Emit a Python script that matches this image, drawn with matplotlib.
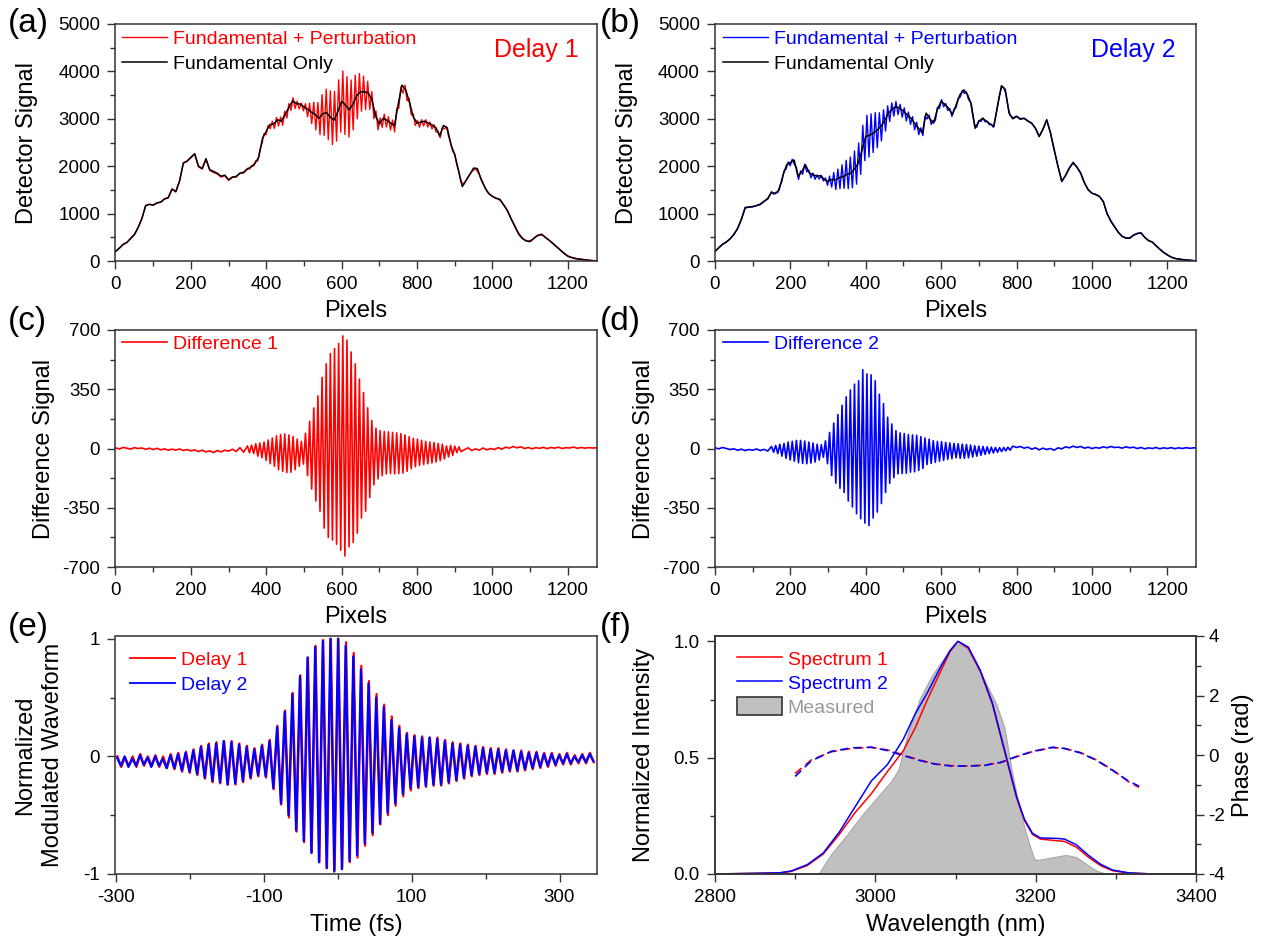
import numpy as np
import matplotlib
matplotlib.use('Agg')
import matplotlib.pyplot as plt
from matplotlib.ticker import MultipleLocator, FixedLocator
from matplotlib.patches import Patch
from matplotlib.lines import Line2D

plt.rcParams['font.family'] = ['Liberation Sans', 'DejaVu Sans']
plt.rcParams['axes.unicode_minus'] = False

# ---------------- data ----------------
PIX_STEP = 10
# (a) fundamental only, sampled every 10 pixels
black_a = [200, 270, 345, 390, 475, 555, 705, 895, 1170, 1195, 1180, 1225, 1245, 1310, 1340, 1520, 1465, 1690,
           2070, 2110, 2190, 2265, 2005, 1950, 2160, 1925, 1890, 1850, 1790, 1810, 1715, 1770, 1785, 1850, 1875,
           1940, 1985, 2060, 2190, 2590, 2740, 2880, 2890, 2980, 2950, 3090, 3240, 3380, 3320, 3310, 3250, 3200,
           3140, 3090, 3010, 3110, 3130, 3030, 2970, 3160, 3370, 3290, 3190, 3310, 3490, 3570, 3570, 3550, 3410,
           3060, 2890, 3010, 2970, 2910, 2850, 3310, 3710, 3610, 3340, 3040, 2910, 2930, 2950, 2910, 2870, 2810,
           2640, 2860, 2810, 2450, 2240, 1900, 1570, 1700, 1830, 1960, 1950, 1720, 1550, 1420, 1365, 1320, 1300,
           1180, 1060, 880, 720, 560, 470, 420, 410, 480, 540, 565, 500, 440, 370, 300, 230, 160, 100, 70, 50, 40,
           30, 20, 10, 5, 0]
# (b) fundamental only
black_b = [200, 280, 350, 400, 470, 560, 690, 880, 1130, 1140, 1150, 1170, 1200, 1260, 1320, 1450, 1420, 1500,
           1800, 2030, 2080, 2130, 1790, 1880, 2030, 1860, 1820, 1790, 1800, 1720, 1680, 1720, 1710, 1760, 1780,
           1830, 1850, 1940, 2060, 2340, 2630, 2650, 2700, 2760, 2840, 2960, 3120, 3200, 3260, 3220, 3160, 3080,
           3010, 2900, 2800, 2700, 3120, 3000, 2910, 3200, 3370, 3300, 3220, 3090, 3300, 3510, 3610, 3510, 3300,
           2800, 2950, 3010, 2950, 2890, 2840, 3300, 3700, 3620, 3120, 3000, 3050, 2990, 3010, 2950, 2910, 2800,
           2630, 2780, 2980, 2700, 2340, 1990, 1680, 1800, 1960, 2070, 1980, 1850, 1650, 1500, 1430, 1400, 1360,
           1250, 1000, 840, 720, 600, 520, 480, 480, 540, 580, 590, 500, 430, 400, 320, 250, 180, 130, 80, 55, 40,
           30, 20, 15, 5, 0]

# (c) difference 1: flat part before, per-fringe extremes, flat part after
diff1_pre = [4, -3, 6, 2, -4, 5, 0, 3, -5, 2, -6, 1, -8, -2, -10, -4, -9, -3, -12, -6,
             -14, -8, -18, -10, -20, -14, -24, -12, -20, -10, -16, -4, -18, 5, -22]
DIFF1_START, FRINGE = 350, 11.0
diff1_top = [15, 20, 28, 32, 38, 50, 62, 75, 82, 86, 80, 70, 55, 42, 90, 160, 240, 310, 420, 500, 560, 590,
             620, 665, 640, 570, 500, 410, 330, 240, 165, 120, 105, 100, 98, 95, 92, 88, 80, 70, 60, 55, 48, 42,
             38, 35, 30, 25, 15, 18, 14, 10]
diff1_bot = [-25, -30, -45, -55, -70, -90, -105, -125, -135, -142, -140, -125, -105, -92, -160, -240, -310, -370,
             -470, -525, -540, -565, -600, -635, -580, -555, -500, -410, -370, -290, -215, -180, -160, -150, -148,
             -150, -148, -145, -135, -120, -108, -100, -95, -90, -85, -80, -72, -62, -50, -40, -25, -18]
DIFF1_POST = 925
diff1_post = [-8, 4, -12, -2, -10, 3, -8, 0, -6, 5, -4, 8, 2, 12, 4, 10, 0, 6, -2, 5, 1, 7, -1, 6, 2, 8, 0, 5,
              3, 9, 1, 6, 2, 5, 3, 4]

# (d) difference 2
diff2_pre = [4, -2, 6, 0, -6, -2, -10, -4, -12, -6, -10, -3, -12, -5, -15]
DIFF2_START = 150
diff2_top = [12, 18, 25, 30, 38, 42, 48, 48, 44, 38, 32, 25, 22, 45, 95, 150, 200, 255, 305, 345, 380, 400, 465,
             440, 435, 400, 320, 265, 185, 145, 105, 92, 88, 82, 80, 78, 70, 62, 55, 46, 42, 40, 36, 33, 30, 28,
             26, 24, 20, 16, 14, 12, 10, 8, 6, 5, 6, 8]
diff2_bot = [-22, -30, -45, -58, -68, -75, -84, -88, -90, -86, -80, -68, -52, -90, -160, -205, -235, -260, -310,
             -345, -385, -415, -440, -455, -410, -375, -325, -260, -205, -172, -150, -148, -146, -140, -138, -130,
             -118, -95, -88, -82, -75, -70, -64, -60, -55, -58, -58, -55, -50, -45, -40, -35, -30, -26, -22, -18,
             -14, -10]
DIFF2_POST = 790
diff2_post = [14, 6, 12, 2, 8, -4, 4, -8, 2, -6, 0, -10, 4, -2, 10, 4, 14, 6, 12, 2, 8, 0, 6, 2, 10, 4, 12, 6,
              8, 2, 10, 4, 8, 0, 6, -2, 4, 0, 6, -2, 4, 0, 5, -1, 4, 0, 5, 1, 4, 2]

# (e) normalized modulated waveforms: per-cycle maxima / minima
T_PERIOD = 10.3
T0_BLUE, T0_RED = -298.0, -297.4
e_blue_top = [-0.01, 0.00, -0.02, 0.01, -0.01, 0.00, -0.02, 0.01, 0.02, 0.03, 0.05, 0.08, 0.10, 0.11, 0.13, 0.12,
              0.10, 0.08, 0.06, 0.09, 0.13, 0.25, 0.38, 0.53, 0.68, 0.84, 0.93, 0.98, 1.00, 1.00, 0.94, 0.85,
              0.74, 0.62, 0.50, 0.42, 0.31, 0.24, 0.19, 0.17, 0.16, 0.16, 0.15, 0.13, 0.11, 0.10, 0.09, 0.08,
              0.07, 0.06, 0.06, 0.05, 0.05, 0.04, 0.03, 0.03, 0.02, 0.02, 0.01, 0.02, 0.00, 0.01, 0.02]
e_blue_bot = [-0.08, -0.09, -0.08, -0.07, -0.09, -0.08, -0.10, -0.10, -0.12, -0.13, -0.15, -0.18, -0.21, -0.22,
              -0.24, -0.23, -0.21, -0.18, -0.16, -0.17, -0.27, -0.40, -0.50, -0.63, -0.72, -0.82, -0.90, -0.95,
              -0.98, -0.96, -0.89, -0.84, -0.74, -0.65, -0.57, -0.48, -0.40, -0.32, -0.27, -0.26, -0.25, -0.24,
              -0.24, -0.22, -0.20, -0.18, -0.16, -0.15, -0.14, -0.14, -0.13, -0.12, -0.12, -0.11, -0.10, -0.09,
              -0.08, -0.07, -0.06, -0.06, -0.05, -0.05, -0.04]
e_red_top = [0.00, -0.01, 0.00, 0.02, 0.00, 0.01, 0.00, 0.02, 0.03, 0.04, 0.06, 0.09, 0.11, 0.12, 0.13, 0.13,
             0.11, 0.09, 0.07, 0.10, 0.14, 0.26, 0.39, 0.54, 0.69, 0.84, 0.94, 0.99, 1.00, 1.00, 0.97, 0.88,
             0.77, 0.64, 0.53, 0.44, 0.34, 0.26, 0.20, 0.18, 0.17, 0.16, 0.16, 0.14, 0.12, 0.11, 0.10, 0.09,
             0.08, 0.07, 0.07, 0.06, 0.05, 0.05, 0.04, 0.04, 0.03, 0.03, 0.02, 0.03, 0.01, 0.02, 0.03]
e_red_bot = [-0.09, -0.08, -0.09, -0.08, -0.08, -0.09, -0.10, -0.11, -0.13, -0.14, -0.16, -0.19, -0.22, -0.23,
             -0.24, -0.24, -0.22, -0.19, -0.17, -0.18, -0.28, -0.41, -0.52, -0.64, -0.73, -0.82, -0.90, -0.95,
             -0.97, -0.95, -0.90, -0.86, -0.76, -0.67, -0.58, -0.50, -0.42, -0.34, -0.29, -0.27, -0.26, -0.25,
             -0.25, -0.23, -0.21, -0.19, -0.17, -0.16, -0.15, -0.15, -0.14, -0.13, -0.13, -0.12, -0.11, -0.10,
             -0.09, -0.08, -0.07, -0.07, -0.06, -0.06, -0.05]

# (f) spectra
spec_wl = [2800, 2850, 2880, 2895, 2915, 2935, 2955, 2975, 2995, 3015, 3035, 3050, 3065, 3080, 3093, 3103, 3116,
           3131, 3146, 3161, 3176, 3186, 3196, 3206, 3226, 3236, 3251, 3266, 3281, 3296, 3316, 3346, 3400]
spec1 = [0.0, 0.003, 0.004, 0.011, 0.036, 0.086, 0.17, 0.265, 0.345, 0.44, 0.53, 0.63, 0.75, 0.86, 0.955, 1.0,
         0.97, 0.87, 0.73, 0.53, 0.33, 0.23, 0.17, 0.15, 0.143, 0.14, 0.115, 0.072, 0.036, 0.014, 0.004, 0.0, 0.0]
spec2 = [0.0, 0.003, 0.005, 0.013, 0.04, 0.09, 0.18, 0.29, 0.40, 0.47, 0.58, 0.69, 0.78, 0.88, 0.96, 1.0,
         0.975, 0.875, 0.735, 0.535, 0.335, 0.235, 0.175, 0.155, 0.153, 0.15, 0.125, 0.08, 0.042, 0.017, 0.005,
         0.0, 0.0]
meas_wl = [2929, 2945, 2965, 2985, 3005, 3020, 3029, 3040, 3055, 3070, 3085, 3095, 3103, 3113, 3126, 3141, 3151,
           3161, 3171, 3181, 3191, 3198, 3203, 3221, 3238, 3251, 3266, 3276, 3286, 3296]
meas = [0.0, 0.086, 0.17, 0.26, 0.34, 0.40, 0.45, 0.60, 0.75, 0.85, 0.925, 0.97, 0.99, 0.975, 0.90, 0.80, 0.73,
        0.63, 0.43, 0.26, 0.14, 0.065, 0.06, 0.072, 0.082, 0.072, 0.036, 0.014, 0.003, 0.0]
phase_wl = [2900, 2920, 2945, 2970, 2995, 3015, 3035, 3055, 3075, 3095, 3116, 3136, 3156, 3176, 3196, 3221, 3236,
            3256, 3276, 3296, 3316, 3329]
phase1 = [-0.62, -0.17, 0.11, 0.22, 0.26, 0.17, 0.0, -0.17, -0.30, -0.36, -0.37, -0.34, -0.26, -0.06, 0.11, 0.25,
          0.22, 0.08, -0.17, -0.5, -0.9, -1.09]
phase2 = [-0.72, -0.2, 0.12, 0.24, 0.26, 0.15, -0.02, -0.18, -0.31, -0.37, -0.37, -0.35, -0.25, -0.05, 0.12, 0.26,
          0.22, 0.07, -0.18, -0.52, -0.88, -1.05]

RED, BLUE = '#ff0000', '#0000ff'


def fringe_trace(t0, period, tops, bots):
    x, y = [], []
    for k, (t, b) in enumerate(zip(tops, bots)):
        x += [t0 + k * period, t0 + (k + 0.5) * period]
        y += [t, b]
    return np.array(x), np.array(y)


def diff_trace(pre, start, tops, bots, post_start, post):
    xp = np.arange(len(pre)) * PIX_STEP
    xo, yo = fringe_trace(start, FRINGE, tops, bots)
    xq = post_start + np.arange(len(post)) * PIX_STEP
    return np.concatenate([xp, xo, xq]), np.concatenate([pre, yo, post])


px_a = np.arange(len(black_a)) * PIX_STEP
px_b = np.arange(len(black_b)) * PIX_STEP
d1x, d1y = diff_trace(diff1_pre, DIFF1_START, diff1_top, diff1_bot, DIFF1_POST, diff1_post)
d2x, d2y = diff_trace(diff2_pre, DIFF2_START, diff2_top, diff2_bot, DIFF2_POST, diff2_post)
red_a = np.interp(d1x, px_a, black_a) + d1y
blue_b = np.interp(d2x, px_b, black_b) + d2y

# ---------------- figure ----------------
W, H = 1261, 941
fig = plt.figure(figsize=(W / 100, H / 100), dpi=100)

LX = [115.5, 715]
AW = 481
ROWS = [(24, 261), (330, 567), (636, 874)]


def add_ax(col, row):
    top, bot = ROWS[row]
    return fig.add_axes([LX[col] / W, 1 - bot / H, AW / W, (bot - top) / H])


TICK_FS = 13.5
LAB_FS = 17
LEG_FS = 14


def style(ax):
    for s in ax.spines.values():
        s.set_linewidth(1.1)
        s.set_color('#333333')
    ax.tick_params(which='both', direction='out', top=False, right=False, labelsize=TICK_FS,
                   width=1.0, color='#333333', pad=5)
    ax.tick_params(which='major', length=6)
    ax.tick_params(which='minor', length=3.5)


def ftext(x, y, s, **kw):
    fig.text(x / W, 1 - y / H, s, **kw)


def legend(ax, row, handles, labels, colors, x_px, y_px, col, **kw):
    lx = (x_px - LX[col]) / AW
    top, bot = ROWS[row]
    ly = (bot - y_px) / (bot - top)
    opts = dict(loc='upper left', bbox_to_anchor=(lx, ly), frameon=False,
                fontsize=LEG_FS, handlelength=2.3, handletextpad=0.3, labelspacing=0.4,
                borderpad=0, borderaxespad=0)
    opts.update(kw)
    leg = ax.legend(handles, labels, **opts)
    for t, c in zip(leg.get_texts(), colors):
        t.set_color(c)
    return leg


# (a)
ax = add_ax(0, 0)
la, = ax.plot(d1x, red_a, color=RED, lw=1.0)
lb, = ax.plot(px_a, black_a, color='black', lw=1.1)
ax.set_xlim(0, 1276); ax.set_ylim(0, 5000)
ax.xaxis.set_major_locator(MultipleLocator(200)); ax.xaxis.set_minor_locator(MultipleLocator(100))
ax.yaxis.set_major_locator(MultipleLocator(1000)); ax.yaxis.set_minor_locator(MultipleLocator(500))
style(ax)
legend(ax, 0, [la, lb], ['Fundamental + Perturbation', 'Fundamental Only'], [RED, 'black'], 122, 30, 0)
ax.text(0.962, 0.89, 'Delay 1', color=RED, fontsize=18, ha='right', va='center', transform=ax.transAxes)

# (b)
ax = add_ax(1, 0)
la, = ax.plot(d2x, blue_b, color=BLUE, lw=1.0)
lb, = ax.plot(px_b, black_b, color='black', lw=1.1)
ax.set_xlim(0, 1276); ax.set_ylim(0, 5000)
ax.xaxis.set_major_locator(MultipleLocator(200)); ax.xaxis.set_minor_locator(MultipleLocator(100))
ax.yaxis.set_major_locator(MultipleLocator(1000)); ax.yaxis.set_minor_locator(MultipleLocator(500))
style(ax)
legend(ax, 0, [la, lb], ['Fundamental + Perturbation', 'Fundamental Only'], [BLUE, 'black'], 723, 30, 1)
ax.text(0.958, 0.89, 'Delay 2', color=BLUE, fontsize=18, ha='right', va='center', transform=ax.transAxes)

# (c)
ax = add_ax(0, 1)
l1, = ax.plot(d1x, d1y, color=RED, lw=1.2)
ax.set_xlim(0, 1276); ax.set_ylim(-700, 700)
ax.xaxis.set_major_locator(MultipleLocator(200)); ax.xaxis.set_minor_locator(MultipleLocator(100))
ax.yaxis.set_major_locator(MultipleLocator(350)); ax.yaxis.set_minor_locator(MultipleLocator(175))
style(ax)
legend(ax, 1, [l1], ['Difference 1'], [RED], 122, 335, 0)

# (d)
ax = add_ax(1, 1)
l2, = ax.plot(d2x, d2y, color=BLUE, lw=1.2)
ax.set_xlim(0, 1276); ax.set_ylim(-700, 700)
ax.xaxis.set_major_locator(MultipleLocator(200)); ax.xaxis.set_minor_locator(MultipleLocator(100))
ax.yaxis.set_major_locator(MultipleLocator(350)); ax.yaxis.set_minor_locator(MultipleLocator(175))
style(ax)
legend(ax, 1, [l2], ['Difference 2'], [BLUE], 723, 335, 1)

# (e)
ax = add_ax(0, 2)
rx, ry = fringe_trace(T0_RED, T_PERIOD, e_red_top, e_red_bot)
bx, by = fringe_trace(T0_BLUE, T_PERIOD, e_blue_top, e_blue_bot)
ax.plot(rx, ry, color=RED, lw=1.6)
ax.plot(bx, by, color=BLUE, lw=1.6)
ax.set_xlim(-300, 350); ax.set_ylim(-1, 1.023)
ax.xaxis.set_major_locator(FixedLocator([-300, -100, 100, 300]))
ax.xaxis.set_minor_locator(FixedLocator([-200, 0, 200]))
ax.yaxis.set_major_locator(FixedLocator([-1, 0, 1]))
ax.yaxis.set_minor_locator(FixedLocator([-0.5, 0.5]))
ax.set_yticklabels(['-1', '0', '1'])
ax.set_xticklabels(['-300', '-100', '100', '300'])
style(ax)
legend(ax, 2, [Line2D([], [], color=RED, lw=1.3), Line2D([], [], color=BLUE, lw=1.3)],
       ['Delay 1', 'Delay 2'], [RED, BLUE], 130, 651, 0)

# (f)
ax = add_ax(1, 2)
ax.fill_between(meas_wl, meas, 0, facecolor='#c0c0c0', edgecolor='#a8a8a8', lw=0.8)
ls1, = ax.plot(spec_wl, spec1, color=RED, lw=1.1)
ls2, = ax.plot(spec_wl, spec2, color=BLUE, lw=1.1)
ax.set_xlim(2800, 3400); ax.set_ylim(0, 1.023)
ax.xaxis.set_major_locator(MultipleLocator(200)); ax.xaxis.set_minor_locator(MultipleLocator(100))
ax.yaxis.set_major_locator(FixedLocator([0, 0.5, 1.0]))
ax.yaxis.set_minor_locator(FixedLocator([0.25, 0.75]))
ax.set_yticklabels(['0.0', '0.5', '1.0'])
style(ax)
ax2 = ax.twinx()
ax2.plot(phase_wl, phase1, color=RED, lw=1.2, ls=(0, (5, 3)))
ax2.plot(phase_wl, phase2, color=BLUE, lw=1.2, ls=(0, (5, 3)))
ax2.set_ylim(-4, 4)
ax2.yaxis.set_major_locator(MultipleLocator(2)); ax2.yaxis.set_minor_locator(MultipleLocator(1))
for s in ax2.spines.values():
    s.set_linewidth(1.1); s.set_color('#333333')
ax2.tick_params(which='both', direction='out', labelsize=TICK_FS, width=1.0, color='#333333', pad=3)
ax2.tick_params(which='major', length=6)
ax2.tick_params(which='minor', length=3.5)
legend(ax, 2, [ls1, ls2, Patch(facecolor='#c0c0c0', edgecolor='#333333', lw=1.2)],
       ['Spectrum 1', 'Spectrum 2', 'Measured'], [RED, BLUE, '#999999'], 737, 649, 1,
       handleheight=1.1, labelspacing=0.2)

# labels
for col in (0, 1):
    cx = LX[col] + AW / 2
    ftext(cx, 311, 'Pixels', fontsize=LAB_FS, ha='center', va='center')
    ftext(cx, 617, 'Pixels', fontsize=LAB_FS, ha='center', va='center')
ftext(LX[0] + AW / 2, 925, 'Time (fs)', fontsize=LAB_FS, ha='center', va='center')
ftext(LX[1] + AW / 2, 925, 'Wavelength (nm)', fontsize=LAB_FS, ha='center', va='center')
ftext(27, 142.5, 'Detector Signal', fontsize=LAB_FS, rotation=90, ha='center', va='center')
ftext(626.5, 142.5, 'Detector Signal', fontsize=LAB_FS, rotation=90, ha='center', va='center')
ftext(44, 448.5, 'Difference Signal', fontsize=LAB_FS, rotation=90, ha='center', va='center')
ftext(644, 448.5, 'Difference Signal', fontsize=LAB_FS, rotation=90, ha='center', va='center')
ftext(39, 755, 'Normalized\nModulated Waveform', fontsize=LAB_FS, rotation=90, ha='center', va='center',
      multialignment='center', linespacing=1.35)
ftext(644, 755, 'Normalized Intensity', fontsize=LAB_FS, rotation=90, ha='center', va='center')
ftext(1243, 755, 'Phase (rad)', fontsize=LAB_FS, rotation=90, ha='center', va='center')

for s, x, y in [('(a)', 8, 8), ('(b)', 600, 8), ('(c)', 8, 306), ('(d)', 600, 306), ('(e)', 8, 612),
                ('(f)', 600, 612)]:
    ftext(x, y, s, fontsize=24, ha='left', va='top')

fig.savefig('out.png', dpi=100)
